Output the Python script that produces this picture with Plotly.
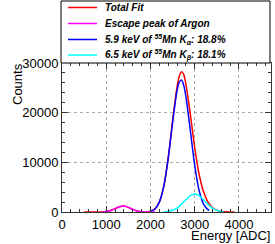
import plotly.graph_objects as go

# ---- data ----
total_x = [500, 800, 900, 1000, 1100, 1200, 1300, 1400, 1500, 1600, 1700, 1800, 1900, 2000,
           2100, 2200, 2300, 2400, 2500, 2600, 2650, 2700, 2750, 2800, 2900, 3000, 3100,
           3200, 3300, 3400, 3500, 3600, 3700, 3800, 3900]
total_y = [0, 5, 22, 98, 309, 686, 1075, 1190, 936, 520, 205, 56, 15, 160,
           620, 1990, 5165, 10820, 18340, 25160, 27270, 28250, 27700, 25807, 19786, 13010, 7596,
           4067, 2012, 904, 360, 120, 40, 10, 0]

escape_x = [900, 1000, 1100, 1200, 1300, 1400, 1500, 1600, 1700, 1800, 1900, 2000, 2100]
escape_y = [22, 98, 309, 686, 1075, 1190, 936, 520, 205, 56, 11, 2, 0]

ka_x = [2000, 2100, 2200, 2300, 2400, 2500, 2600, 2650, 2700, 2750, 2800, 2900, 3000,
        3100, 3200, 3300, 3330]
ka_y = [154, 616, 1980, 5130, 10700, 18000, 24370, 26140, 26570, 25580, 23340, 16510, 9410,
        4320, 1600, 475, 330]

kb_x = [2300, 2400, 2500, 2600, 2700, 2800, 2900, 3000, 3100, 3200, 3300, 3400, 3500, 3600, 3650]
kb_y = [35, 120, 340, 794, 1537, 2467, 3276, 3600, 3276, 2467, 1537, 794, 340, 120, 67]

legend_labels = [
    "<b><i>Total Fit</i></b>",
    "<b><i>Escape peak of Argon</i></b>",
    "<b><i>5.9 keV of <sup>55</sup>Mn K<sub>α</sub>: 18.8%</i></b>",
    "<b><i>6.5 keV of <sup>55</sup>Mn K<sub>β</sub>: 18.1%</i></b>",
]
colors = ["#ff0000", "#ff00ff", "#0000ff", "#00ffff"]

x_tickvals = [0, 1000, 2000, 3000, 4000]
y_tickvals = [0, 10000, 20000, 30000]

FONT = "Liberation Sans, Arial, sans-serif"

fig = go.Figure()
series = [(total_x, total_y), (escape_x, escape_y), (ka_x, ka_y), (kb_x, kb_y)]
for (xs, ys), c, name in zip(series, colors, legend_labels):
    fig.add_trace(go.Scatter(x=xs, y=ys, mode="lines", name=name,
                             line=dict(color=c, width=1.5, shape="spline", smoothing=0.8),
                             showlegend=False, hoverinfo="skip"))

# plot area geometry in px
L, R, T, B = 62, 4, 63, 32
W, H = 275, 244
pw = W - L - R
ph = H - T - B

def px_x(p):
    return (p - L) / pw

def px_y(p):
    return (H - B - p) / ph

shapes = []
annotations = []
# legend box
shapes.append(dict(type="rect", xref="paper", yref="paper",
                   x0=px_x(61), x1=px_x(270), y0=px_y(63), y1=px_y(1),
                   line=dict(color="#000000", width=1), fillcolor="white", layer="above"))
row_y = [7.5, 23.5, 39.5, 55]
for ry, c, lab in zip(row_y, colors, legend_labels):
    shapes.append(dict(type="line", xref="paper", yref="paper",
                       x0=px_x(68), x1=px_x(97), y0=px_y(ry), y1=px_y(ry),
                       line=dict(color=c, width=1.5), layer="above"))
    annotations.append(dict(text=lab, xref="paper", yref="paper", x=px_x(103), y=px_y(ry),
                            xanchor="left", yanchor="middle", showarrow=False,
                            font=dict(family=FONT, size=10, color="black")))

annotations.append(dict(text="Counts", xref="paper", yref="paper", x=px_x(17), y=px_y(84),
                        xanchor="center", yanchor="middle", textangle=-90, showarrow=False,
                        font=dict(family=FONT, size=13, color="black")))
annotations.append(dict(text="Energy [ADC]", xref="paper", yref="paper", x=px_x(272), y=px_y(235),
                        xanchor="right", yanchor="middle", showarrow=False,
                        font=dict(family=FONT, size=13, color="black")))

fig.update_layout(
    width=W, height=H,
    margin=dict(l=L, r=R, t=T, b=B, pad=0),
    paper_bgcolor="white", plot_bgcolor="white",
    font=dict(family=FONT, size=13, color="black"),
    shapes=shapes, annotations=annotations,
    showlegend=False,
)
fig.update_xaxes(range=[0, 4725], tickvals=x_tickvals, ticktext=[str(v) for v in x_tickvals],
                 showgrid=True, gridcolor="#aaaaaa", griddash="dot", gridwidth=1,
                 zeroline=False, showline=True, linecolor="#333333", linewidth=1, mirror="ticks",
                 ticks="inside", ticklen=6, tickcolor="#333333",
                 minor=dict(dtick=200, ticks="inside", ticklen=3, tickcolor="#333333", showgrid=False),
                 tickfont=dict(size=13))
fig.update_yaxes(range=[0, 30000], tickvals=y_tickvals, ticktext=[str(v) for v in y_tickvals],
                 showgrid=True, gridcolor="#aaaaaa", griddash="dot", gridwidth=1,
                 zeroline=False, showline=True, linecolor="#333333", linewidth=1, mirror="ticks",
                 ticks="inside", ticklen=6, tickcolor="#333333",
                 minor=dict(dtick=2000, ticks="inside", ticklen=3, tickcolor="#333333", showgrid=False),
                 tickfont=dict(size=13))

fig.write_html("out.html", config={"displayModeBar": False},
               post_script="document.body.style.margin='0';document.body.style.padding='0';")
